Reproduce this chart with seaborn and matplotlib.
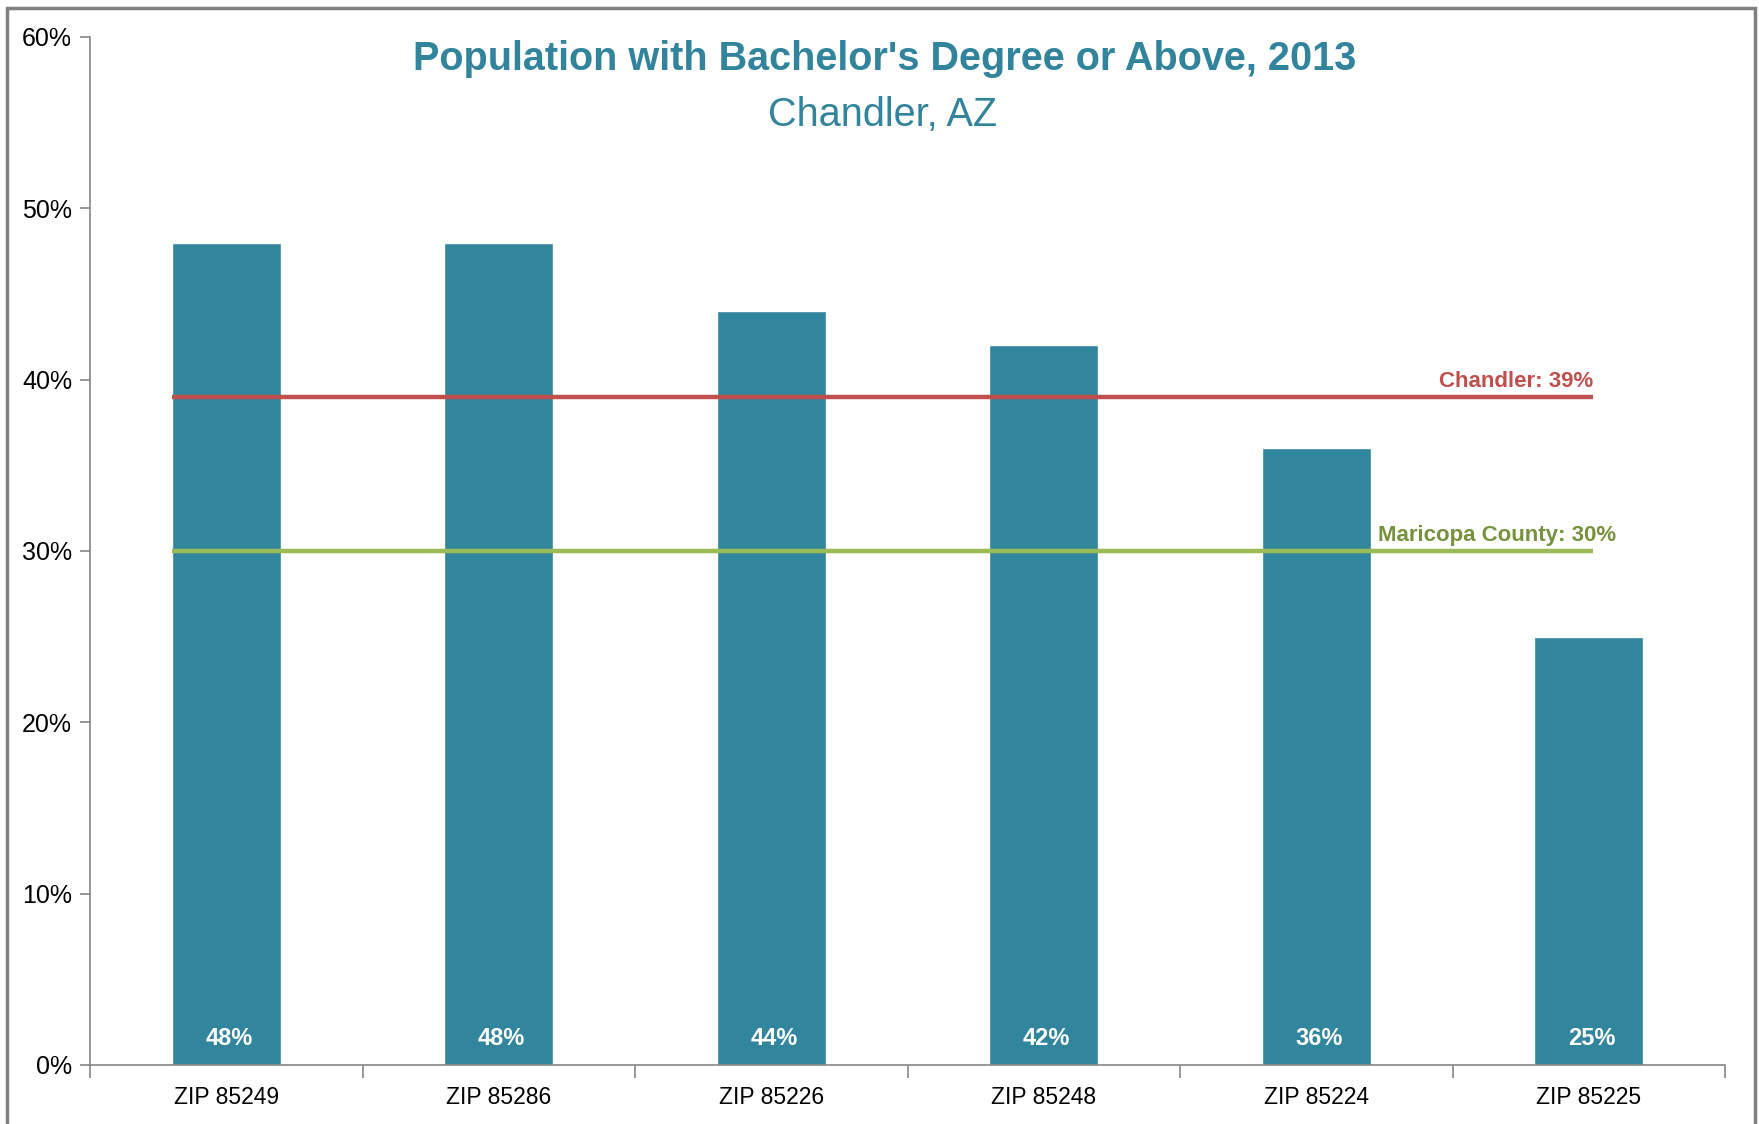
import matplotlib
matplotlib.use("Agg")
import matplotlib.pyplot as plt
import seaborn as sns
import pandas as pd
from matplotlib import font_manager
from matplotlib.patches import Rectangle
from matplotlib.ticker import PercentFormatter, FixedLocator

# ==========================================
# DATA
# ==========================================
zips = ["ZIP 85249", "ZIP 85286", "ZIP 85226", "ZIP 85248", "ZIP 85224", "ZIP 85225"]
share = [0.48, 0.48, 0.44, 0.42, 0.36, 0.25]

ref_names = ["Chandler", "Maricopa County"]
ref_values = [0.39, 0.30]

y_ticks = [0.0, 0.1, 0.2, 0.3, 0.4, 0.5, 0.6]

df = pd.DataFrame({"zip": zips, "share": share})

# ==========================================
# STYLE
# ==========================================
names = {f.name for f in font_manager.fontManager.ttflist}
narrow = "Liberation Sans Narrow" if "Liberation Sans Narrow" in names else "Liberation Sans"

sns.set_theme(style="white")
plt.rcParams["font.family"] = [narrow, "DejaVu Sans"]

teal = "#31859C"
title_col = "#31849B"
red = "#C0504D"
green = "#9BBB59"
green_txt = "#76923C"
axis_col = "#868686"

fig = plt.figure(figsize=(17.59, 11.24), dpi=100)
ax = fig.add_axes([0.0512, 0.0525, 0.9295, 0.9146])

sns.barplot(data=df, x="zip", y="share", color=teal, width=0.4,
            saturation=1, ax=ax)

ax.set_xlim(-0.5, len(zips) - 0.5)
ax.set_ylim(0, 0.6)
ax.set_yticks(y_ticks)
ax.yaxis.set_major_formatter(PercentFormatter(1.0, decimals=0))
ax.set_xlabel("")
ax.set_ylabel("")

# category boundary ticks on the x axis
ax.xaxis.set_minor_locator(FixedLocator([i - 0.5 for i in range(len(zips) + 1)]))
ax.tick_params(axis="x", which="major", length=0, pad=15, labelsize=16.5, labelcolor="black")
ax.tick_params(axis="x", which="minor", length=9, width=1.2, color=axis_col, direction="out", bottom=True)
ax.tick_params(axis="y", which="major", length=7, width=1.2, color=axis_col, direction="out",
               left=True, pad=6, labelsize=18, labelcolor="black")

for side in ["top", "right"]:
    ax.spines[side].set_visible(False)
for side in ["left", "bottom"]:
    ax.spines[side].set_color(axis_col)
    ax.spines[side].set_linewidth(1.2)

# value labels inside the bars
for i, v in enumerate(share):
    ax.text(i + 0.01, 0.0155, f"{v:.0%}", ha="center", va="center", color="white",
            fontsize=17, fontweight="bold")

# reference lines
ref_cols = [red, green]
txt_cols = [red, green_txt]
for name, v, c in zip(ref_names, ref_values, ref_cols):
    ax.hlines(v, -0.2, len(zips) - 0.985, colors=c, linewidth=3.2, zorder=3)
for name, v, tc in zip(ref_names, ref_values, txt_cols):
    x_end = len(zips) - 0.985 if name == "Chandler" else len(zips) - 0.90
    ax.text(x_end, v + 0.003, f"{name}: {v:.0%}", ha="right", va="bottom",
            color=tc, fontsize=16, fontweight="bold")

# titles
fig.text(0.503, 0.9475, "Population with Bachelor's Degree or Above, 2013",
         ha="center", va="center", color=title_col, fontsize=28.5, fontweight="bold")
fig.text(0.502, 0.898, "Chandler, AZ", ha="center", va="center",
         color=title_col, fontsize=28.5)

# outer frame
fig.patches.append(Rectangle((0.004, -0.02), 0.994, 1.013, transform=fig.transFigure,
                             fill=False, edgecolor="#808080", linewidth=2.5))

fig.savefig("out.png", dpi=100)
